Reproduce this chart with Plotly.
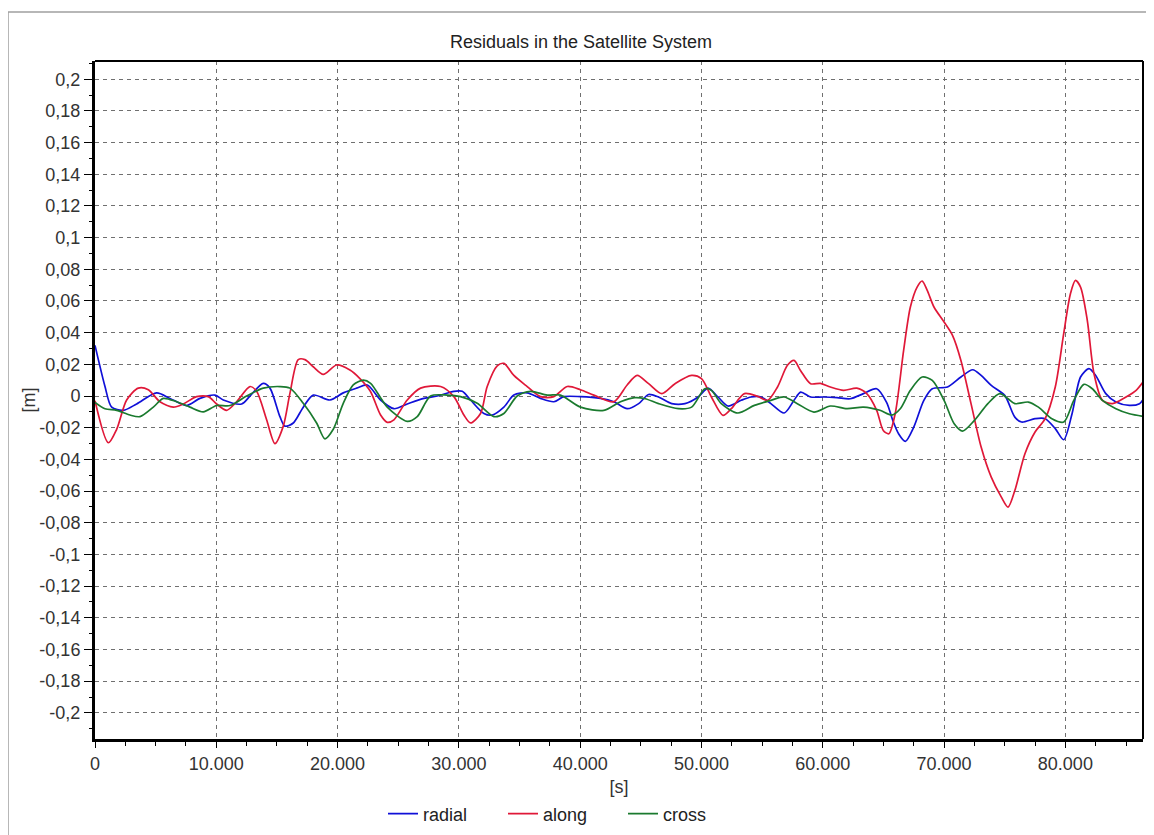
import plotly.graph_objects as go

# ---- data ----
radial_t = [0, 275, 824, 1374, 2335, 3434, 5082, 6181, 7555, 8654, 9890, 10577, 12088, 12775,
            13873, 14423, 15247, 15659, 16346, 17170, 17994, 19368, 20467, 21566, 22446, 23545,
            24643, 25742, 27116, 28214, 29588, 30275, 30961, 32060, 32747, 33708, 34533, 35631,
            36730, 37829, 38653, 40027, 41675, 42774, 43873, 44823, 45640, 46458, 47548, 48638,
            49728, 50545, 51363, 52180, 53270, 54088, 54905, 55723, 56813, 57630, 58175, 58993,
            60083, 61173, 62263, 63353, 64443, 65260, 65800, 66250, 66805, 67500, 68333, 69028,
            70278, 71389, 72361, 73056, 73889, 75000, 75834, 76389, 77501, 78334, 79167, 79862,
            80556, 81251, 81945, 82501, 83334, 84168, 85279, 86112, 86400]
radial_v = [0.032, 0.023, 0.006, -0.007, -0.009, -0.005, 0.002, -0.0015, -0.006, -0.0015, 0.0006,
            -0.0025, -0.005, 0.0, 0.008, 0.005, -0.013, -0.019, -0.017, -0.007, 0.0006, -0.0025,
            0.002, 0.005, 0.007, -0.0025, -0.008, -0.005, -0.0015, 0.0, 0.003, 0.003, -0.0025,
            -0.011, -0.012, -0.007, 0.0006, 0.002, -0.0015, -0.0036, -0.0004, -0.0004, -0.0015,
            -0.0036, -0.008, -0.0048, 0.001, -0.0006, -0.0048, -0.0048, -0.0006, 0.005, -0.0006,
            -0.0063, -0.0027, -0.0006, -0.0006, -0.0048, -0.0107, -0.0027, 0.0025, -0.0006,
            -0.0006, -0.001, -0.0017, 0.0015, 0.0046, -0.004, -0.016, -0.0238, -0.0286, -0.0196,
            -0.0027, 0.0046, 0.0057, 0.012, 0.0166, 0.013, 0.0067, 0.0004, -0.0133, -0.0164,
            -0.0143, -0.0143, -0.0206, -0.0276, -0.011, 0.012, 0.0173, 0.013, 0.0015, -0.0038,
            -0.0059, -0.0048, -0.0023]

along_t = [0, 1099, 1786, 2610, 3571, 4395, 5357, 6456, 7280, 8379, 9340, 10027, 10851, 11675,
           12775, 13324, 14148, 14835, 15522, 16071, 16758, 17307, 17994, 18819, 19918, 21016,
           21840, 22700, 23545, 24094, 24643, 25742, 26841, 28489, 29588, 30412, 30961, 31786,
           32335, 33159, 33708, 34533, 35631, 36730, 37829, 38928, 40027, 41125, 42774, 43873,
           44697, 45640, 46730, 47820, 49183, 50000, 50818, 51771, 52453, 53543, 54633, 55450,
           56268, 57085, 57630, 58175, 58993, 59810, 60628, 61718, 62808, 63625, 64443, 64988,
           65450, 65972, 66666, 67222, 67778, 68194, 68611, 69167, 70000, 70695, 71389, 72222,
           73056, 73889, 74723, 75278, 75834, 76667, 77501, 78334, 79167, 79862, 80417, 80834,
           81251, 81807, 82362, 83057, 83890, 85001, 85835, 86400]
along_v = [-0.003, -0.0295, -0.021, -0.0025, 0.005, 0.004, -0.0036, -0.007, -0.005, -0.0004,
           -0.0004, -0.005, -0.009, -0.0036, 0.006, 0.003, -0.015, -0.030, -0.019, 0.0017, 0.023,
           0.023, 0.0185, 0.0137, 0.0196, 0.0164, 0.011, 0.003, -0.012, -0.0166, -0.015, -0.0025,
           0.005, 0.006, -0.0004, -0.012, -0.017, -0.011, 0.006, 0.019, 0.0206, 0.013, 0.006,
           -0.0004, -0.0004, 0.006, 0.004, 0.0006, -0.0036, 0.007, 0.013, 0.0078, 0.0015, 0.0078,
           0.013, 0.011, -0.0006, -0.0122, -0.008, 0.0015, -0.0002, -0.0027, 0.0057, 0.0194,
           0.0225, 0.016, 0.0078, 0.008, 0.0057, 0.0036, 0.005, 0.0015, -0.009, -0.0217, -0.0238,
           -0.011, 0.0288, 0.0562, 0.0688, 0.0726, 0.0667, 0.0562, 0.0467, 0.0383, 0.0225,
           -0.0048, -0.0322, -0.0512, -0.0638, -0.0701, -0.0596, -0.0364, -0.0227, -0.0143,
           0.0057, 0.0394, 0.0646, 0.073, 0.0688, 0.0478, 0.0141, -0.0027, -0.0048, -0.0006,
           0.0036, 0.0088]

cross_t = [0, 824, 1786, 2885, 3709, 4808, 5632, 6731, 7830, 8928, 10027, 11126, 12500, 13873,
           15247, 16071, 17170, 18269, 18956, 19643, 20467, 21291, 22115, 22720, 24094, 25742,
           26566, 27665, 29039, 30137, 31511, 32884, 33708, 34807, 35906, 37280, 38379, 40027,
           41950, 43323, 44500, 45368, 46458, 48093, 49183, 50273, 50818, 51635, 52998, 54360,
           55723, 56813, 57903, 59265, 60628, 61990, 63353, 64715, 65694, 66389, 67222, 68194,
           69028, 70000, 70833, 71528, 72500, 73611, 74584, 75278, 75834, 76945, 77778, 78890,
           79862, 80695, 81529, 82223, 83057, 84168, 85279, 86400]
cross_v = [-0.004, -0.008, -0.009, -0.012, -0.013, -0.007, -0.0015, -0.0036, -0.007, -0.010,
           -0.006, -0.006, 0.0, 0.005, 0.006, 0.005, -0.0046, -0.017, -0.027, -0.021, -0.0046,
           0.007, 0.010, 0.008, -0.007, -0.016, -0.013, 0.0, 0.0006, -0.0004, -0.0046, -0.013,
           -0.011, 0.0, 0.003, 0.0006, 0.0006, -0.007, -0.009, -0.0036, -0.001, -0.0017, -0.0048,
           -0.008, -0.007, 0.0046, 0.0036, -0.0048, -0.0107, -0.0059, -0.0027, -0.0006, -0.0048,
           -0.0101, -0.0063, -0.008, -0.007, -0.009, -0.012, -0.008, 0.0036, 0.012, 0.0099,
           -0.0027, -0.0175, -0.0221, -0.0154, -0.0048, 0.0015, -0.0017, -0.0048, -0.0038,
           -0.007, -0.0143, -0.0164, -0.0027, 0.0074, 0.0046, -0.0027, -0.008, -0.0112, -0.0128]

series_names = ["radial", "along", "cross"]
series_colors = ["#1010d8", "#e01838", "#1a7a2e"]

x_tickvals = [0, 10000, 20000, 30000, 40000, 50000, 60000, 70000, 80000]
x_ticktext = ["0", "10.000", "20.000", "30.000", "40.000", "50.000", "60.000", "70.000", "80.000"]
y_tickvals = [round(0.2 - 0.02 * i, 2) for i in range(21)]
y_ticktext = ["0,2", "0,18", "0,16", "0,14", "0,12", "0,1", "0,08", "0,06", "0,04", "0,02", "0",
              "-0,02", "-0,04", "-0,06", "-0,08", "-0,1", "-0,12", "-0,14", "-0,16", "-0,18", "-0,2"]

# ---- figure ----
FONT = "Liberation Sans, Arial, sans-serif"
TXT = "#333333"
fig = go.Figure()
for name, t, v, c in zip(series_names, [radial_t, along_t, cross_t],
                         [radial_v, along_v, cross_v], series_colors):
    fig.add_trace(go.Scatter(x=t, y=v, mode="lines", name=name,
                             line=dict(color=c, width=1.7, shape="spline", smoothing=0.8)))

# page is offset by the 8px body margin
OFF = 8
W, H = 1154 - OFF, 835 - OFF
PL, PR, PT, PB = 95, 1143, 61, 739   # plot area in page pixels
L, T = PL - OFF, PT - OFF
R, B = W - (PR - OFF), H - (PB - OFF)

def px_x(px):
    return (px - PL) / (PR - PL)

def px_y(py):
    return (PB - py) / (PB - PT)

fig.update_layout(
    width=W, height=H,
    margin=dict(l=L, r=R, t=T, b=B, autoexpand=False),
    paper_bgcolor="white", plot_bgcolor="white",
    font=dict(family=FONT, size=18, color=TXT),
    title=dict(text="Residuals in the Satellite System", x=(581 - OFF) / W, xanchor="center",
               xref="container", yref="container", y=1 - (42 - OFF) / H, yanchor="middle",
               font=dict(family=FONT, size=18, color="#222222")),
    showlegend=True,
    legend=dict(orientation="h", x=px_x(383), xanchor="left", y=px_y(814), yanchor="middle",
                font=dict(family=FONT, size=18, color="#222222"), bgcolor="rgba(0,0,0,0)",
                entrywidthmode="pixels", entrywidth=75),
    xaxis=dict(range=[0, 86400], tickmode="array", tickvals=x_tickvals, ticktext=x_ticktext,
               automargin=False,
               showline=True, linecolor="black", linewidth=3, ticks="outside", ticklen=6,
               tickcolor="black", tickwidth=1,
               minor=dict(tickmode="linear", tick0=0, dtick=2500, ticks="outside", ticklen=4,
                          tickcolor="black", showgrid=False),
               showgrid=True, gridcolor="#707070", griddash="4px,4px", gridwidth=1,
               zeroline=False, tickfont=dict(size=18, color=TXT),
               title=dict(text="[s]", font=dict(size=18, color=TXT), standoff=8)),
    yaxis=dict(range=[-0.2165, 0.2115], tickmode="array", tickvals=y_tickvals, ticktext=y_ticktext,
               automargin=False,
               showline=True, linecolor="black", linewidth=3, ticks="outside", ticklen=8,
               tickcolor="black", tickwidth=1,
               minor=dict(tickmode="linear", tick0=0, dtick=0.01, ticks="outside", ticklen=3,
                          tickcolor="black", showgrid=False),
               showgrid=True, gridcolor="#707070", griddash="4px,4px", gridwidth=1,
               zeroline=False, tickfont=dict(size=18, color=TXT),
               title=dict(text="[m]", font=dict(size=18, color=TXT), standoff=0)),
    shapes=[
        dict(type="line", xref="paper", yref="paper", x0=0, x1=1, y0=1, y1=1,
             line=dict(color="black", width=2)),
        dict(type="line", xref="paper", yref="paper", x0=1, x1=1, y0=0, y1=1,
             line=dict(color="black", width=2)),
        dict(type="rect", xref="paper", yref="paper", x0=px_x(8), x1=px_x(1170),
             y0=px_y(850), y1=px_y(12), line=dict(color="#a0a0a0", width=1.5),
             fillcolor="rgba(0,0,0,0)", layer="below"),
    ],
)

fig.write_html("out.html")
